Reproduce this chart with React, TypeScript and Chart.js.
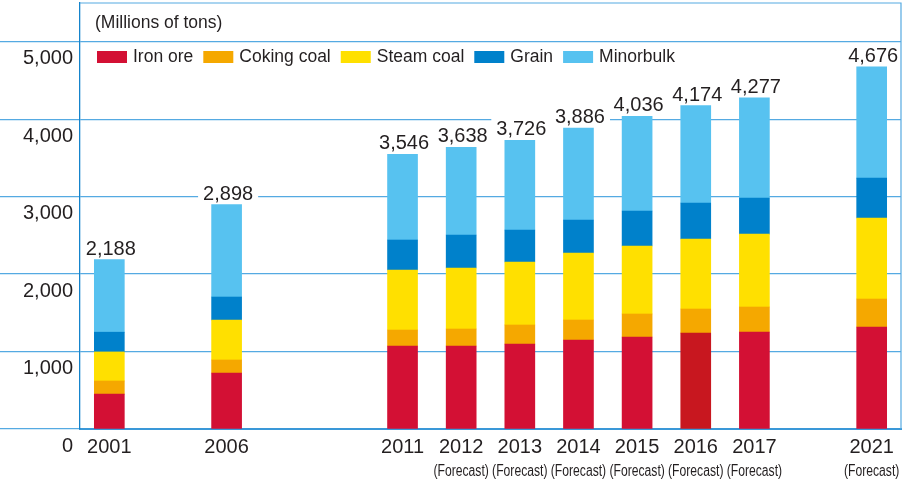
import React, { useEffect, useRef } from 'react';
import { Chart, registerables } from 'chart.js';

Chart.register(...registerables);

// ---------- data ----------
const categories = ['2001', '', '2006', '', '', '2011', '2012', '2013', '2014', '2015', '2016', '2017', '', '2021'];
const forecastNotes = ['', '', '', '', '', '', '(Forecast)', '(Forecast)', '(Forecast)', '(Forecast)', '(Forecast)', '(Forecast)', '', '(Forecast)'];

const ironOre = [450, null, 723, null, null, 1072, 1072, 1097, 1149, 1188, 1239, 1252, null, 1317];
const cokingCoal = [170, null, 168, null, null, 206, 219, 246, 258, 297, 310, 323, null, 361];
const steamCoal = [375, null, 516, null, null, 775, 788, 813, 865, 878, 904, 942, null, 1046];
const grain = [255, null, 297, null, null, 387, 426, 413, 426, 451, 465, 465, null, 516];
const minorbulk = [938, null, 1194, null, null, 1106, 1133, 1157, 1188, 1222, 1256, 1295, null, 1436];

const seriesNames = ['Iron ore', 'Coking coal', 'Steam coal', 'Grain', 'Minorbulk'];
const unitLabel = '(Millions of tons)';
const yTickValues = [0, 1000, 2000, 3000, 4000, 5000];

// ---------- styles ----------
const FONT = "'Liberation Sans', Arial, sans-serif";
const TEXT = '#231f20';
const GRID = '#55aae2';
const AXIS = '#1584cc';
const BOTTOM = '#3a98d8';
const colors = ['#d31034', '#f5a800', '#ffe000', '#0081cb', '#57c2f0'];
const ironOreAlt = '#c8171f';

const seriesData = [ironOre, cokingCoal, steamCoal, grain, minorbulk];

const decorPlugin = {
  id: 'decor',
  afterDatasetsDraw(chart: any) {
    const ctx = chart.ctx as CanvasRenderingContext2D;
    const ca = chart.chartArea;
    ctx.save();
    // frame top & right
    ctx.strokeStyle = GRID;
    ctx.lineWidth = 1.2;
    ctx.beginPath();
    ctx.moveTo(ca.left, ca.top);
    ctx.lineTo(ca.right, ca.top);
    ctx.lineTo(ca.right, ca.bottom);
    ctx.stroke();

    const xs = chart.scales.x;
    const ys = chart.scales.y;

    // totals above bars (white backing clipped to plot area)
    ctx.font = `20px ${FONT}`;
    ctx.textAlign = 'center';
    ctx.textBaseline = 'alphabetic';
    categories.forEach((_c, i) => {
      if (ironOre[i] == null) return;
      const total = seriesData.reduce((s, arr) => s + (arr[i] as number), 0);
      const x = xs.getPixelForValue(i) + 1.5;
      const y = ys.getPixelForValue(total);
      const text = total.toLocaleString('en-US');
      const w = ctx.measureText(text).width;
      const l = Math.max(ca.left + 1.5, x - w / 2 - 5);
      const r = Math.min(ca.right - 1, x + w / 2 + 5);
      ctx.fillStyle = '#ffffff';
      ctx.fillRect(l, y - 23, r - l, 19);
      ctx.fillStyle = TEXT;
      ctx.fillText(text, x, y - 5);
    });

    // forecast notes under years (condensed)
    ctx.font = `16px ${FONT}`;
    ctx.textBaseline = 'middle';
    forecastNotes.forEach((note, i) => {
      if (!note) return;
      const x = xs.getPixelForValue(i);
      ctx.save();
      ctx.translate(x, 472);
      ctx.scale(0.76, 1);
      ctx.fillStyle = TEXT;
      ctx.fillText(note, 0, 0);
      ctx.restore();
    });

    // unit title
    ctx.textAlign = 'left';
    ctx.textBaseline = 'middle';
    ctx.font = `17.5px ${FONT}`;
    ctx.fillStyle = TEXT;
    ctx.fillText(unitLabel, 95, 23);

    // legend
    let lx = 97;
    seriesNames.forEach((name, k) => {
      ctx.fillStyle = colors[k];
      ctx.fillRect(lx, 51, 30, 12);
      ctx.fillStyle = TEXT;
      ctx.fillText(name, lx + 36, 57.5);
      lx += 36 + ctx.measureText(name).width + 10;
    });
    ctx.restore();
  },
};

export default function App() {
  const ref = useRef<HTMLCanvasElement | null>(null);

  useEffect(() => {
    if (!ref.current) return;
    const datasets = seriesNames.map((name, k) => ({
      label: name,
      data: seriesData[k],
      backgroundColor:
        k === 0 ? categories.map((c) => (c === '2016' ? ironOreAlt : colors[0])) : colors[k],
      borderWidth: 0,
      barThickness: 30,
    }));
    const chart = new Chart(ref.current, {
      type: 'bar',
      data: { labels: categories, datasets },
      options: {
        animation: false,
        responsive: false,
        events: [],
        layout: { padding: { top: 3, right: 2, left: 0, bottom: 0 } },
        plugins: { legend: { display: false }, tooltip: { enabled: false } },
        scales: {
          x: {
            stacked: true,
            offset: true,
            grid: { display: false, drawTicks: false },
            border: { color: BOTTOM, width: 2 },
            ticks: {
              padding: 6,
              maxRotation: 0,
              autoSkip: false,
              color: TEXT,
              font: { family: FONT, size: 20 },
            },
            afterFit: (s: any) => {
              s.height = 52;
            },
          },
          y: {
            stacked: true,
            min: 0,
            max: 5500,
            afterBuildTicks: (s: any) => {
              s.ticks = yTickValues.map((v) => ({ value: v }));
            },
            afterFit: (s: any) => {
              s.width = 80;
            },
            grid: { color: GRID, lineWidth: 1.3, drawTicks: true, tickLength: 80 },
            border: { color: AXIS, width: 1.3 },
            ticks: {
              padding: -73,
              labelOffset: 17,
              color: TEXT,
              font: { family: FONT, size: 20 },
              callback: (v: any) => Number(v).toLocaleString('en-US'),
            },
          },
        },
      } as any,
      plugins: [decorPlugin],
    });
    return () => chart.destroy();
  }, []);

  return (
    <div style={{ position: 'fixed', left: 0, top: 0, width: 903, height: 481, background: '#fff' }}>
      <canvas ref={ref} width={903} height={481} style={{ display: 'block' }} />
    </div>
  );
}
